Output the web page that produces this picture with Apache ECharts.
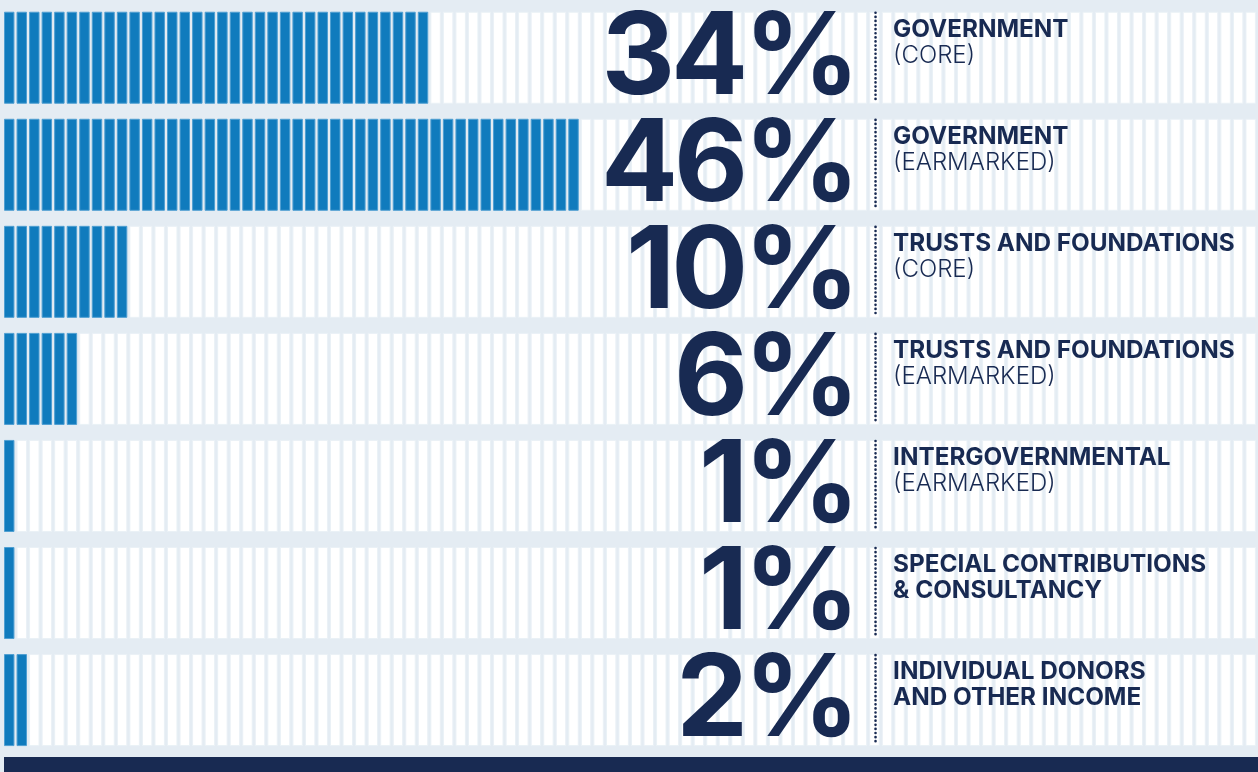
<!DOCTYPE html>
<html>
<head>
<meta charset="utf-8">
<script src="https://cdn.jsdelivr.net/npm/echarts@6/dist/echarts.min.js"></script>
<style>
html,body{margin:0;padding:0;background:#e4ecf3;}
#chart{width:1258px;height:772px;}
</style>
</head>
<body>
<div id="chart"></div>
<script>
// ---- data ----
const categories = ['Government (core)', 'Government (earmarked)', 'Trusts and foundations (core)', 'Trusts and foundations (earmarked)', 'Intergovernmental (earmarked)', 'Special contributions & consultancy', 'Individual donors and other income'];
const values = [34, 46, 10, 6, 1, 1, 2];
const titleLines = ['GOVERNMENT', 'GOVERNMENT', 'TRUSTS AND FOUNDATIONS', 'TRUSTS AND FOUNDATIONS', 'INTERGOVERNMENTAL', 'SPECIAL CONTRIBUTIONS', 'INDIVIDUAL DONORS'];
const subLines = ['(CORE)', '(EARMARKED)', '(CORE)', '(EARMARKED)', '(EARMARKED)', '& CONSULTANCY', 'AND OTHER INCOME'];
const cellCount = 100;

// ---- style ----
const NAVY = '#182a52';
const BLUE = '#107bbd';
const BLUE_EDGE = '#4f9fd2';
const BG = '#e4ecf3';
const FONT = 'Inter';
const PCT_FONT = 'bold 114px ' + FONT;
const PCT_TRACK = -4;     // px tracking between big digits
const PCT_RIGHT = 68.25;  // x-axis value where the big % text box ends
const DOT_X = 69.5;       // x-axis value of dotted separator
const LABEL_X = 70.9;     // x-axis value where labels start

const measureCtx = document.createElement('canvas').getContext('2d');
function charWidth(ch) {
  measureCtx.font = PCT_FONT;
  return measureCtx.measureText(ch).width;
}

const chart = echarts.init(document.getElementById('chart'), null, {renderer: 'canvas'});

const rows = values.map((v, i) => [i, v]);

function cellsItem(params, api) {
  const row = api.value(0);
  const pct = api.value(1);
  const size = api.size([1, 1]);
  const cellW = size[0];
  const bandH = size[1];
  const h = bandH * 0.8595;
  const cy = api.coord([0, row])[1];
  const top = cy - h / 2;
  const children = [];
  for (let i = 0; i < cellCount; i++) {
    const x0 = api.coord([i, row])[0];
    const filled = i < pct;
    children.push({
      type: 'rect',
      shape: {x: x0 + 0.5, y: top + 0.5, width: cellW - 3.1, height: h - 1},
      style: {fill: filled ? BLUE : '#ffffff', stroke: filled ? BLUE_EDGE : '#eaf1f6', lineWidth: 1}
    });
  }
  return {type: 'group', children};
}

function textItem(params, api) {
  const row = api.value(0);
  const pct = api.value(1);
  const size = api.size([1, 1]);
  const bandH = size[1];
  const h = bandH * 0.8595;
  const cy = api.coord([0, row])[1];
  const top = cy - h / 2;
  const xr = api.coord([PCT_RIGHT, row])[0];
  const xd = api.coord([DOT_X, row])[0];
  const xl = api.coord([LABEL_X, row])[0];
  const t = titleLines[row];
  const s = subLines[row];
  const subLight = s.charAt(0) === '(';

  const str = pct + '%';
  const chars = str.split('');
  const widths = chars.map(charWidth);
  const total = widths.reduce((a, b) => a + b, 0) + PCT_TRACK * (chars.length - 1);
  let x = xr - total;
  const children = [];
  chars.forEach((ch, k) => {
    children.push({
      type: 'text',
      style: {text: ch, x: x, y: top + 48, align: 'left', verticalAlign: 'middle', fill: NAVY, font: PCT_FONT}
    });
    x += widths[k] + PCT_TRACK;
  });
  children.push({
    type: 'line',
    shape: {x1: xd, y1: top + 1, x2: xd, y2: top + h - 1},
    style: {stroke: NAVY, lineWidth: 2.6, lineDash: [0.1, 4], lineCap: 'round'}
  });
  children.push({
    type: 'text',
    style: {
      text: '{a|' + t + '}\n{' + (subLight ? 'b' : 'a') + '|' + s + '}',
      x: xl, y: top + 5, align: 'left', verticalAlign: 'top',
      rich: {
        a: {fontFamily: FONT, fontWeight: 'bold', fontSize: 24.3, lineHeight: 26, fill: NAVY},
        b: {fontFamily: FONT, fontWeight: 300, fontSize: 24, lineHeight: 26, fill: NAVY}
      }
    }
  });
  return {type: 'group', children};
}

chart.setOption({
  backgroundColor: BG,
  animation: false,
  grid: {left: 4, top: 4.2, width: 1257, height: 749.4},
  xAxis: {type: 'value', min: 0, max: cellCount, show: false},
  yAxis: {type: 'category', data: categories, inverse: true, show: false},
  series: [
    {type: 'custom', name: 'cells', renderItem: cellsItem, data: rows, encode: {x: 1, y: 0}, z: 1, silent: true},
    {type: 'custom', name: 'labels', renderItem: textItem, data: rows, encode: {x: 1, y: 0}, z: 5, silent: true}
  ],
  graphic: [
    {type: 'rect', left: 4, top: 757, shape: {width: 1260, height: 16}, style: {fill: NAVY}}
  ]
});
</script>
</body>
</html>
